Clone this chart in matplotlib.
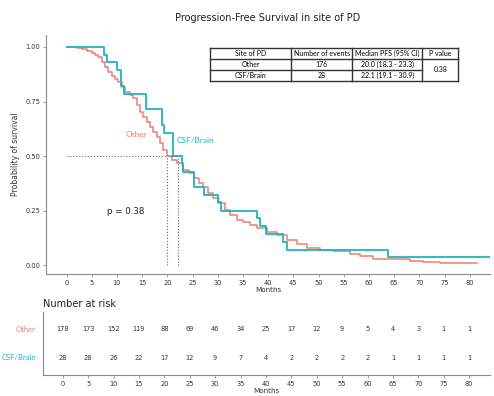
import numpy as np
import matplotlib
matplotlib.use("Agg")
import matplotlib.pyplot as plt
from matplotlib.lines import Line2D

# data
other_t = [0, 2.0, 3.0, 4.0, 5.0, 5.65, 6.3, 7.0, 7.6, 8.3, 9.0, 9.6, 10.3, 10.95,
           11.6, 12.6, 13.25, 13.9, 14.6, 15.2, 15.9, 16.6, 17.2, 17.9, 18.6, 19.2,
           19.9, 20.9, 21.9, 23.2, 24.2, 25.2, 26.2, 27.1, 28.1, 29.1, 30.1, 31.4,
           32.4, 33.8, 35.1, 36.4, 37.7, 39.7, 41.7, 43.7, 45.7, 47.7, 50.3, 52.9,
           56.2, 58.2, 60.8, 68.2, 70.7, 74.1, 81.4]
other_s = [1.0, 0.996, 0.989, 0.982, 0.971, 0.963, 0.953, 0.933, 0.91, 0.887, 0.868,
           0.852, 0.841, 0.818, 0.795, 0.78, 0.765, 0.734, 0.703, 0.68, 0.657, 0.634,
           0.611, 0.589, 0.558, 0.528, 0.5, 0.484, 0.466, 0.436, 0.42, 0.398, 0.375,
           0.359, 0.329, 0.306, 0.283, 0.252, 0.229, 0.206, 0.199, 0.183, 0.168,
           0.153, 0.138, 0.115, 0.096, 0.077, 0.07, 0.065, 0.05, 0.041, 0.026, 0.019,
           0.012, 0.008, 0.008]
csf_t = [0, 7.5, 8.1, 10.0, 10.75, 11.4, 15.8, 19.0, 19.4, 21.2, 22.9, 23.2, 25.2,
         27.3, 30.1, 30.6, 37.7, 38.4, 39.6, 43.0, 43.8, 63.7, 84]
csf_s = [1.0, 0.964, 0.929, 0.893, 0.821, 0.786, 0.714, 0.643, 0.607, 0.5, 0.464,
         0.429, 0.357, 0.321, 0.29, 0.25, 0.214, 0.179, 0.143, 0.107, 0.071, 0.036, 0.036]
median_other = 20.0
median_csf = 22.1

risk_times = list(range(0, 85, 5))
risk_other = [178, 173, 152, 119, 88, 69, 46, 34, 25, 17, 12, 9, 5, 4, 3, 1, 1]
risk_csf = [28, 28, 26, 22, 17, 12, 9, 7, 4, 2, 2, 2, 2, 1, 1, 1, 1]

table_header = ["Site of PD", "Number of events", "Median PFS (95% CI)", "P value"]
table_rows = [["Other", "176", "20.0 (18.3 - 23.3)"],
              ["CSF/Brain", "28", "22.1 (19.1 - 30.9)"]]
p_value = "0.38"

red = "#EE7D72"
cyan = "#1BB6C0"
grey = "#8a8a8a"
W, H = 494, 396

fig = plt.figure(figsize=(W / 100, H / 100), dpi=100)


def fx(px):
    return px / W


def fy(py):
    return 1 - py / H


# ---- main KM plot
ax = fig.add_axes([fx(46), fy(274), fx(490) - fx(46), fy(35) - fy(274)])
ax.step(other_t, other_s, where="post", color=red, lw=1.1)
ax.step(csf_t, csf_s, where="post", color=cyan, lw=1.3)
ax.plot([0, median_csf], [0.5, 0.5], ls=":", color="#666666", lw=0.8)
for m in [median_other, median_csf]:
    ax.plot([m, m], [0, 0.5], ls=":", color="#666666", lw=0.8)

ax.set_xlim(-4.07, 84)
ax.set_ylim(-0.041, 1.055)
ax.set_xticks(risk_times)
ax.set_yticks([0, 0.25, 0.5, 0.75, 1.0])
ax.set_yticklabels(["0.00", "0.25", "0.50", "0.75", "1.00"])
ax.tick_params(labelsize=4.8, length=2, width=0.6, color=grey, labelcolor="#333333", pad=2)
for s in ["top", "right"]:
    ax.spines[s].set_visible(False)
for s in ["left", "bottom"]:
    ax.spines[s].set_color(grey)
    ax.spines[s].set_linewidth(0.8)
ax.set_xlabel("Months", fontsize=5.2, labelpad=1, color="#333333")
ax.set_ylabel("Probability of survival", fontsize=5.5, labelpad=4, color="#333333")
ax.set_title("Progression-Free Survival in site of PD", fontsize=7, pad=10, color="#222222")

ax.text(13.8, 0.60, "Other", color=red, fontsize=6, ha="center", va="center", family="Lato")
ax.text(25.6, 0.57, "CSF/Brain", color=cyan, fontsize=6, ha="center", va="center", family="Lato")
ax.text(11.8, 0.245, "p = 0.38", fontsize=6.2, ha="center", va="center", color="#222222")

# ---- summary table (drawn in figure pixels)
cols = [210, 291, 352.3, 422.3, 458.3]
rows = [48.3, 59, 69.7, 80.7]
lw_t = 1.0
for x in cols:
    fig.add_artist(Line2D([fx(x), fx(x)], [fy(rows[0]), fy(rows[-1])], color="#333333", lw=lw_t))
for i, y in enumerate(rows):
    x1 = cols[-1] if i in (0, 1, 3) else cols[-2]
    fig.add_artist(Line2D([fx(cols[0]), fx(x1)], [fy(y), fy(y)], color="#333333", lw=lw_t))
for j, h in enumerate(table_header):
    fig.text(fx((cols[j] + cols[j + 1]) / 2), fy((rows[0] + rows[1]) / 2), h,
             fontsize=5, ha="center", va="center", family="Lato")
for i, r in enumerate(table_rows):
    for j, v in enumerate(r):
        fig.text(fx((cols[j] + cols[j + 1]) / 2), fy((rows[i + 1] + rows[i + 2]) / 2), v,
                 fontsize=5, ha="center", va="center", family="Lato")
fig.text(fx((cols[3] + cols[4]) / 2), fy((rows[1] + rows[3]) / 2), p_value,
         fontsize=5, ha="center", va="center", family="Lato")

# ---- number at risk table
ax2 = fig.add_axes([fx(42.7), fy(375), fx(490) - fx(42.7), fy(311.7) - fy(375)])
ax2.set_xlim(-3.94, 84.1)
ax2.set_ylim(0, 1)
for t, a, b in zip(risk_times, risk_other, risk_csf):
    ax2.text(t, 0.73, str(a), fontsize=4.8, ha="center", va="center", color="#333333")
    ax2.text(t, 0.27, str(b), fontsize=4.8, ha="center", va="center", color="#333333")
ax2.set_xticks(risk_times)
ax2.set_yticks([])
ax2.tick_params(labelsize=4.8, length=2, width=0.6, color=grey, labelcolor="#333333", pad=2)
for s in ["top", "right"]:
    ax2.spines[s].set_visible(False)
for s in ["left", "bottom"]:
    ax2.spines[s].set_color(grey)
    ax2.spines[s].set_linewidth(0.8)
ax2.set_xlabel("Months", fontsize=5.2, labelpad=1, color="#333333")
fig.text(fx(43), fy(304), "Number at risk", fontsize=7, ha="left", va="center", color="#222222")
fig.text(fx(36), fy(329), "Other", fontsize=5.5, ha="right", va="center", color=red, family="Lato")
fig.text(fx(36), fy(358), "CSF/Brain", fontsize=5.5, ha="right", va="center", color=cyan, family="Lato")

fig.savefig("out.png", dpi=100)
